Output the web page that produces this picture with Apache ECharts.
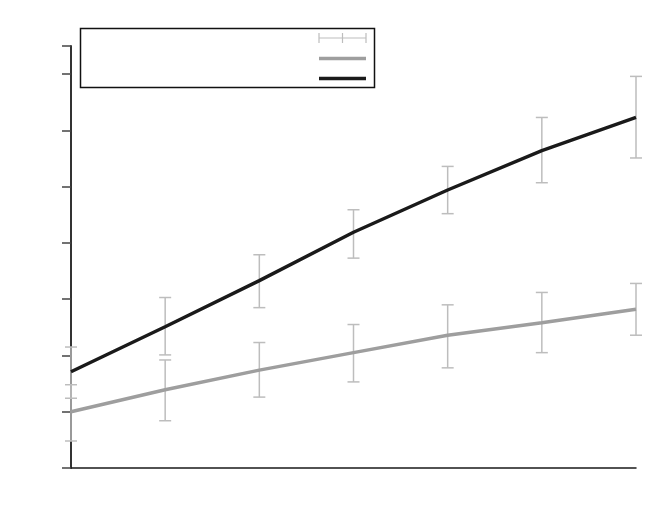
<!DOCTYPE html>
<html>
<head>
<meta charset="utf-8">
<script src="https://cdn.jsdelivr.net/npm/echarts@6/dist/echarts.min.js"></script>
<style>
  html, body { margin: 0; padding: 0; background: #fff; }
  #main { width: 664px; height: 532px; }
</style>
</head>
<body>
<div id="main"></div>
<script>
// 数据
var categories = ['1', '2', '3', '4', '5', '6', '7'];
var darkMean = [1.71, 2.51, 3.33, 4.19, 4.94, 5.64, 6.23];
var darkLow  = [1.24, 2.01, 2.85, 3.73, 4.52, 5.07, 5.51];
var darkHigh = [2.15, 3.03, 3.79, 4.59, 5.36, 6.23, 6.96];
var greyMean = [1.00, 1.39, 1.74, 2.05, 2.36, 2.58, 2.82];
var greyLow  = [0.48, 0.84, 1.26, 1.53, 1.78, 2.05, 2.36];
var greyHigh = [1.48, 1.92, 2.23, 2.55, 2.90, 3.12, 3.28];

var errColor = '#bdbdbd';

function errData(low, high) {
  var out = [];
  for (var i = 0; i < low.length; i++) out.push([i, low[i], high[i]]);
  return out;
}

function renderErr(params, api) {
  var lo = api.coord([api.value(0), api.value(1)]);
  var hi = api.coord([api.value(0), api.value(2)]);
  var w = 6;
  var st = { stroke: errColor, lineWidth: 1.5 };
  return {
    type: 'group',
    children: [
      { type: 'line', shape: { x1: lo[0], y1: lo[1], x2: hi[0], y2: hi[1] }, style: st },
      { type: 'line', shape: { x1: lo[0] - w, y1: lo[1], x2: lo[0] + w, y2: lo[1] }, style: st },
      { type: 'line', shape: { x1: hi[0] - w, y1: hi[1], x2: hi[0] + w, y2: hi[1] }, style: st }
    ]
  };
}

// 图例里的小线段
function legLine(x1, y1, x2, y2, color, w) {
  return {
    type: 'line', z: 11,
    shape: { x1: x1, y1: y1, x2: x2, y2: y2 },
    style: { stroke: color, lineWidth: w }
  };
}

var myChart = echarts.init(document.getElementById('main'));

var option = {
  animation: false,
  backgroundColor: '#fff',
  grid: { left: 71, right: 28, top: 46, bottom: 64 },
  xAxis: {
    type: 'category',
    data: categories,
    boundaryGap: false,
    axisLine: { lineStyle: { color: '#1a1a1a', width: 1.5 } },
    axisTick: { show: false },
    axisLabel: { show: false },
    splitLine: { show: false }
  },
  yAxis: {
    type: 'value',
    min: 0,
    max: 7.5,
    interval: 1,
    axisLine: { show: true, lineStyle: { color: '#333', width: 2 } },
    axisTick: { show: true, length: 9, lineStyle: { color: '#444', width: 1.5 } },
    axisLabel: { show: false },
    splitLine: { show: false }
  },
  graphic: [
    {
      type: 'rect', z: 10,
      shape: { x: 80.5, y: 28.5, width: 294, height: 59 },
      style: { fill: '#fff', stroke: '#111', lineWidth: 1.5 }
    },
    legLine(319, 38, 366, 38, errColor, 1.2),
    legLine(319, 33, 319, 43, errColor, 1.2),
    legLine(342.5, 33, 342.5, 43, errColor, 1.2),
    legLine(366, 33, 366, 43, errColor, 1.2),
    legLine(319, 58.5, 366, 58.5, '#9e9e9e', 3.5),
    legLine(319, 78.5, 366, 78.5, '#1a1a1a', 3.5)
  ],
  series: [
    {
      name: 'grey-err',
      type: 'custom',
      renderItem: renderErr,
      data: errData(greyLow, greyHigh),
      clip: false,
      z: 1
    },
    {
      name: 'dark-err',
      type: 'custom',
      renderItem: renderErr,
      data: errData(darkLow, darkHigh),
      clip: false,
      z: 1
    },
    {
      name: 'grey',
      type: 'line',
      data: greyMean,
      showSymbol: false,
      lineStyle: { color: '#9e9e9e', width: 3.5 },
      z: 3
    },
    {
      name: 'dark',
      type: 'line',
      data: darkMean,
      showSymbol: false,
      lineStyle: { color: '#1a1a1a', width: 3.4 },
      z: 3
    }
  ]
};

myChart.setOption(option);
</script>
</body>
</html>
